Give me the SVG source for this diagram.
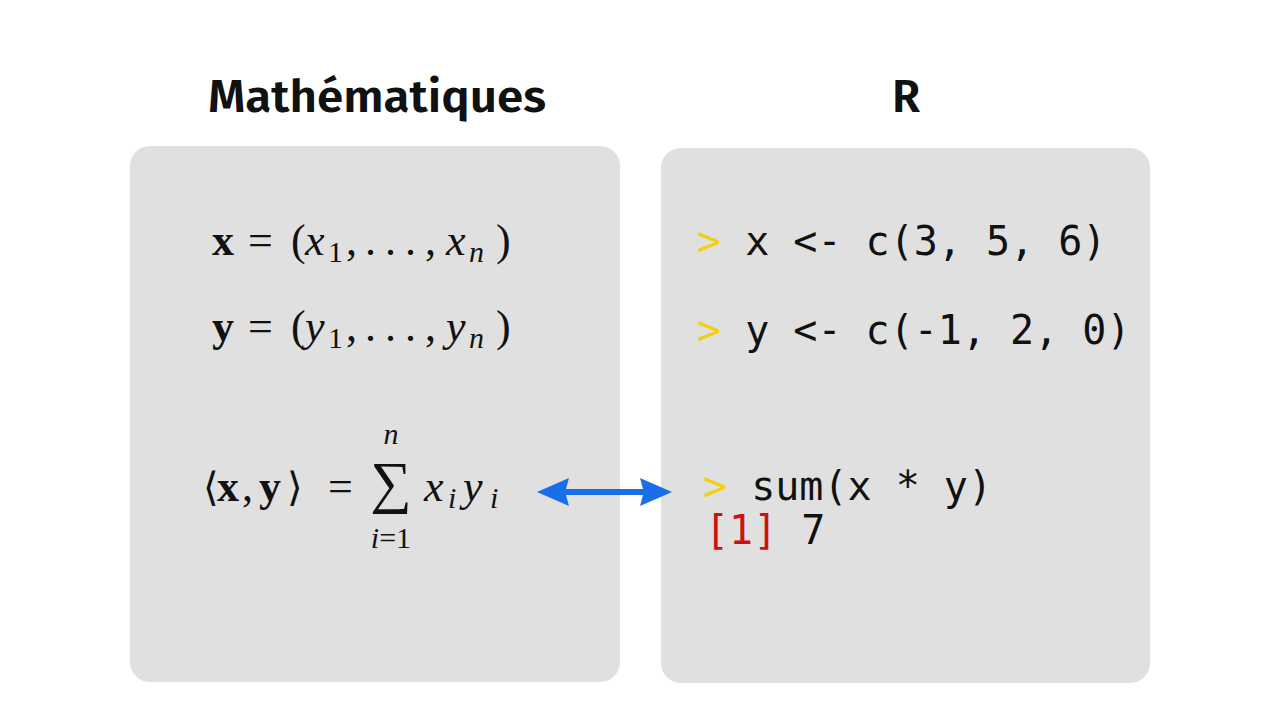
<svg xmlns="http://www.w3.org/2000/svg" width="1280" height="720" viewBox="0 0 1280 720">
<style>
.panel{fill:#e0e0e0}
.title{font-family:"Fira Sans","Noto Sans","Open Sans",sans-serif;font-weight:600;font-size:46px;fill:#111}
.m{font-family:"Liberation Serif","DejaVu Serif",serif;font-size:44px;fill:#111}
.b{font-weight:bold}
.i{font-style:italic}
.sub{font-size:30px}
.code{font-family:"DejaVu Sans Mono","Liberation Mono",monospace;font-size:40px;fill:#111}
.pr{fill:#f0d010}
.out{fill:#cc1111}
.arrow{fill:#1a6ee8}
</style>
<rect width="1280" height="720" fill="#fff"/>
<g id="title-math"><text class="title" x="208" y="112" textLength="338" lengthAdjust="spacingAndGlyphs">Mathématiques</text></g>
<g id="title-r"><text class="title" x="906" y="112" text-anchor="middle">R</text></g>
<g id="panel-math">
<rect class="panel" x="130" y="146" width="490" height="536" rx="20"/>
<text class="m" y="255"><tspan x="212" class="b">x</tspan><tspan x="248">=</tspan><tspan x="291">(</tspan><tspan x="305" class="i">x</tspan><tspan x="328" class="sub" dy="7">1</tspan><tspan x="346" dy="-7">,</tspan><tspan x="365">.</tspan><tspan x="385">.</tspan><tspan x="405">.</tspan><tspan x="425">,</tspan><tspan x="446" class="i">x</tspan><tspan x="469" class="sub i" dy="7">n</tspan><tspan x="496" dy="-7">)</tspan></text>
<text class="m" y="341"><tspan x="212" class="b">y</tspan><tspan x="248">=</tspan><tspan x="291">(</tspan><tspan x="305" class="i">y</tspan><tspan x="328" class="sub" dy="7">1</tspan><tspan x="346" dy="-7">,</tspan><tspan x="365">.</tspan><tspan x="385">.</tspan><tspan x="405">.</tspan><tspan x="425">,</tspan><tspan x="446" class="i">y</tspan><tspan x="469" class="sub i" dy="7">n</tspan><tspan x="496" dy="-7">)</tspan></text>
<text class="m" y="501"><tspan x="203" style="font-family:'DejaVu Serif',serif;font-size:40px">⟨</tspan><tspan x="217" class="b">x</tspan><tspan x="242">,</tspan><tspan x="259" class="b">y</tspan><tspan x="287" style="font-family:'DejaVu Serif',serif;font-size:40px">⟩</tspan><tspan x="328">=</tspan><tspan x="424" class="i">x</tspan><tspan x="448" class="sub i" dy="7">i</tspan><tspan x="463" class="i" dy="-7">y</tspan><tspan x="490" class="sub i" dy="7">i</tspan></text>
<text class="m" x="391" y="502" text-anchor="middle" style="font-size:58px">∑</text>
<text class="m i" x="391" y="444" text-anchor="middle" style="font-size:30px">n</text>
<text class="m" x="391" y="548" text-anchor="middle" style="font-size:30px"><tspan class="i">i</tspan>=1</text>
</g>
<g id="panel-r">
<rect class="panel" x="661" y="148" width="489" height="535" rx="20"/>
<text class="code" x="697" y="255"><tspan class="pr">&gt;</tspan> x &lt;- c(3, 5, 6)</text>
<text class="code" x="697" y="344"><tspan class="pr">&gt;</tspan> y &lt;- c(-1, 2, 0)</text>
<text class="code" x="703" y="500"><tspan class="pr">&gt;</tspan> sum(x * y)</text>
<text class="code" x="705" y="544"><tspan class="out">[1]</tspan> 7</text>
</g>
<g id="connectors">
<path class="arrow" d="M537,492 L569,478 L566,489 L643,489 L640,478 L672,492 L640,506 L643,495 L566,495 L569,506 Z"/>
</g>
</svg>
